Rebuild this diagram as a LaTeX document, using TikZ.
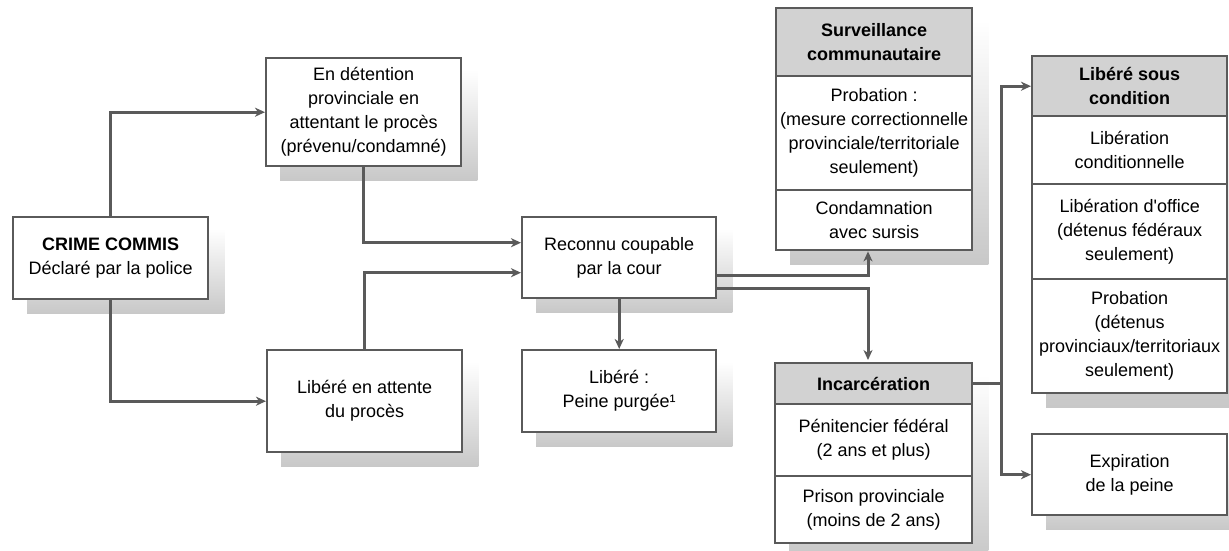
\documentclass[tikz,border=0pt]{standalone}
\usepackage{fontspec}
\setmainfont{Liberation Sans}[Ligatures=TeXOff]
\usetikzlibrary{arrows.meta,backgrounds,calc}
\definecolor{linegray}{RGB}{90,90,90}
\definecolor{headgray}{RGB}{210,210,210}
\definecolor{shadowgray}{RGB}{200,200,200}
\begin{document}
\begin{tikzpicture}[x=1pt,y=-1pt,
  box/.style={draw=linegray, line width=2.4pt, fill=white, rectangle, inner sep=2pt,
    align=center, anchor=north west, font=\fontsize{18}{24}\selectfont, text=black},
  head/.style={box, fill=headgray, font=\fontsize{18}{24}\selectfont\bfseries},
  conn/.style={draw=linegray, line width=3pt},
  arr/.style={conn, -{Stealth[length=10pt,width=9pt,inset=3pt]}},
  shadowbox/.style={top color=white, bottom color=shadowgray}]
\useasboundingbox (0,0) rectangle (1229,551);
% left column
\node[box, minimum width=195pt, minimum height=82pt] (crime) at (12,216)
  {\textbf{CRIME COMMIS}\\Déclaré par la police};
\node[box, minimum width=195pt, minimum height=108pt] (det) at (265,57)
  {En détention\\provinciale en\\attentant le procès\\(prévenu/condamné)};
\node[box, minimum width=195pt, minimum height=102pt] (att) at (266,349)
  {Libéré en attente\\du procès};
\node[box, minimum width=194pt, minimum height=81pt] (rec) at (521,216)
  {Reconnu coupable\\par la cour};
\node[box, minimum width=194pt, minimum height=82pt] (pur) at (521,349)
  {Libéré :\\Peine purgée¹};
% surveillance
\node[head, minimum width=196pt, minimum height=68pt] (fhead) at (775,7)
  {Surveillance\\communautaire};
\node[box, minimum width=196pt, minimum height=114pt] (fprob) at (775,75)
  {Probation :\\(mesure correctionnelle\\provinciale/territoriale\\seulement)};
\node[box, minimum width=196pt, minimum height=60pt] (fcond) at (775,189)
  {Condamnation\\avec sursis};
% incarceration
\node[head, minimum width=197pt, minimum height=41pt] (ghead) at (774,362)
  {Incarcération};
\node[box, minimum width=197pt, minimum height=72pt] (gpen) at (774,403)
  {Pénitencier fédéral\\(2 ans et plus)};
\node[box, minimum width=197pt, minimum height=67pt] (gpris) at (774,475)
  {Prison provinciale\\(moins de 2 ans)};
% libere sous condition
\node[head, minimum width=195pt, minimum height=60pt] (hhead) at (1031,55)
  {Libéré sous\\condition};
\node[box, minimum width=195pt, minimum height=68pt] (hlib) at (1031,115)
  {Libération\\conditionnelle};
\node[box, minimum width=195pt, minimum height=95pt] (hoff) at (1031,183)
  {Libération d'office\\(détenus fédéraux\\seulement)};
\node[box, minimum width=195pt, minimum height=114pt] (hprob) at (1031,278)
  {Probation\\(détenus\\provinciaux/territoriaux\\seulement)};
\node[box, minimum width=195pt, minimum height=81pt] (exp) at (1031,433)
  {Expiration\\de la peine};
% shadows
\begin{scope}[on background layer]
\foreach \a/\b in {crime/crime, det/det, att/att, rec/rec, pur/pur, fhead/fcond, ghead/gpris, hhead/hprob, exp/exp}
  \shade[shadowbox] ($(\a.north west)+(15,13)$) rectangle ($(\b.south east)+(15,13)$);
\end{scope}
% connectors
\coordinate (fx) at (868,0);
\draw[arr] (crime.north) |- (det.west);
\draw[arr] (crime.south) |- (att.west);
\draw[arr] (det.south) |- ($(rec.west)+(0,-15)$);
\draw[arr] (att.north) |- ($(rec.west)+(0,15)$);
\draw[arr] (rec.south) -- (pur.north);
\draw[arr] ($(rec.east)+(0,18)$) -| (fx |- fcond.south);
\draw[arr] ($(rec.east)+(0,31)$) -| ($(fx |- ghead.north)+(0,-2)$);
\draw[conn] (ghead.east) -- ++(28,0) coordinate (jn);
\draw[arr] (jn) |- (hhead.west);
\draw[arr] (jn) |- (exp.west);
\end{tikzpicture}
\end{document}
